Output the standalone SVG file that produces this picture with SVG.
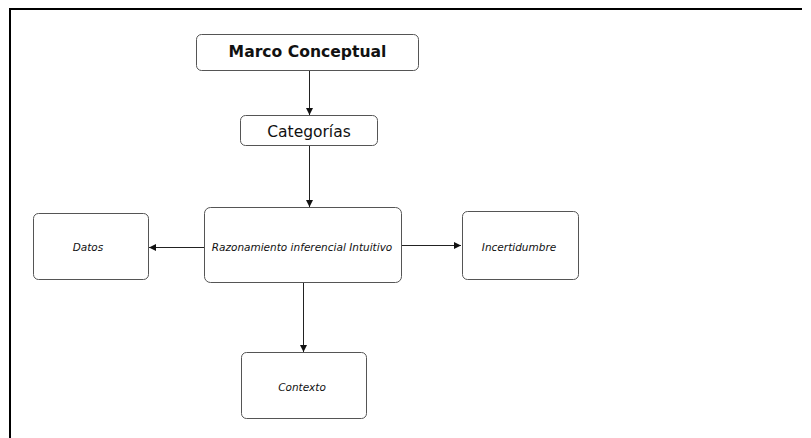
<svg xmlns="http://www.w3.org/2000/svg" width="811" height="438" viewBox="0 0 811 438">
<defs>
<marker id="ah" viewBox="0 0 10 10" refX="10" refY="5" markerWidth="7" markerHeight="7" markerUnits="userSpaceOnUse" orient="auto">
<path d="M0,0 L10,5 L0,10 z" fill="#111"/>
</marker>
<style>
.box{fill:#fff;stroke:#555;stroke-width:1}
.t{font-family:"DejaVu Sans",Verdana,sans-serif;fill:#111;text-anchor:middle}
.it{font-style:italic;font-size:10.5px}
.c{stroke:#222;stroke-width:1;fill:none;marker-end:url(#ah)}
</style>
</defs>
<rect width="811" height="438" fill="#fff"/>
<path d="M10,438 V9 H802" fill="none" stroke="#000" stroke-width="2"/>
<g id="connectors">
<line class="c" x1="309.5" y1="71" x2="309.5" y2="115"/>
<line class="c" x1="309.5" y1="146" x2="309.5" y2="207"/>
<line class="c" x1="204" y1="247.5" x2="149" y2="247.5"/>
<line class="c" x1="402" y1="245.5" x2="461" y2="245.5"/>
<line class="c" x1="303.5" y1="283" x2="303.5" y2="352"/>
</g>
<g id="marco">
<rect class="box" x="196.5" y="34.5" width="222" height="36" rx="5"/>
<text class="t" x="307.5" y="57" font-size="15.6" font-weight="bold">Marco Conceptual</text>
</g>
<g id="categorias">
<rect class="box" x="240.5" y="115.5" width="137" height="30" rx="5"/>
<text class="t" x="309" y="137" font-size="15.5">Categorías</text>
</g>
<g id="razonamiento">
<rect class="box" x="204.5" y="207.5" width="197" height="75" rx="6"/>
<text class="t it" x="302" y="251">Razonamiento inferencial Intuitivo</text>
</g>
<g id="datos">
<rect class="box" x="33.5" y="213.5" width="115" height="66" rx="5"/>
<text class="t it" x="88" y="251">Datos</text>
</g>
<g id="incertidumbre">
<rect class="box" x="462.5" y="211.5" width="116" height="68" rx="5"/>
<text class="t it" x="519" y="251">Incertidumbre</text>
</g>
<g id="contexto">
<rect class="box" x="241.5" y="352.5" width="125" height="66" rx="5"/>
<text class="t it" x="302" y="391">Contexto</text>
</g>
</svg>
